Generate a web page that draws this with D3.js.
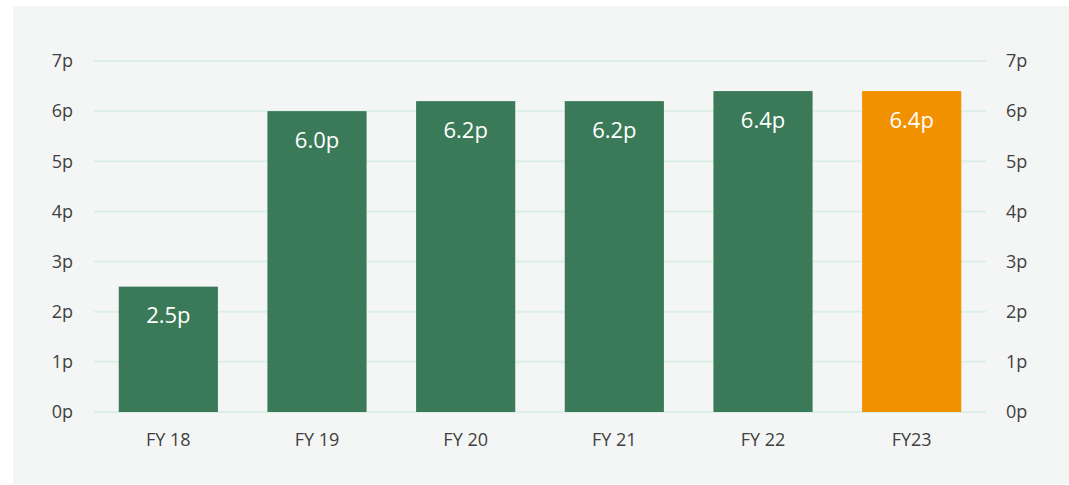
<!DOCTYPE html>
<html>
<head>
<meta charset="utf-8">
<script src="https://cdn.jsdelivr.net/npm/d3@7"></script>
<style>
  body { margin: 0; background: #ffffff; }
  svg { display: block; }
</style>
</head>
<body>
<div id="chart"></div>
<script>
const categories = ["FY 18", "FY 19", "FY 20", "FY 21", "FY 22", "FY23"];
const values = [2.5, 6.0, 6.2, 6.2, 6.4, 6.4];
const valueLabels = ["2.5p", "6.0p", "6.2p", "6.2p", "6.4p", "6.4p"];
const tickValues = [0, 1, 2, 3, 4, 5, 6, 7];

const width = 1069,
  height = 485;
const marginLeft = 94,
  marginRight = 83,
  marginTop = 61,
  marginBottom = 73;

const green = "#3a7a58";
const orange = "#f29100";
const font = "'Open Sans', sans-serif";

const svg = d3
  .select("#chart")
  .append("svg")
  .attr("width", width)
  .attr("height", height);

// panel background
svg
  .append("rect")
  .attr("x", 13)
  .attr("y", 6)
  .attr("width", width - 13)
  .attr("height", height - 7)
  .attr("fill", "#f4f6f6");

const xScale = d3
  .scaleBand()
  .domain(categories)
  .range([marginLeft, width - marginRight])
  .paddingInner(0.333)
  .paddingOuter(0.1665);

const yScale = d3
  .scaleLinear()
  .domain([0, 7])
  .range([height - marginBottom, marginTop]);

// gridlines
svg
  .append("g")
  .selectAll("line")
  .data(tickValues)
  .enter()
  .append("line")
  .attr("x1", marginLeft)
  .attr("x2", width - marginRight)
  .attr("y1", (d) => yScale(d))
  .attr("y2", (d) => yScale(d))
  .attr("stroke", "#dcefe6")
  .attr("stroke-width", 2);

// bars
svg
  .append("g")
  .selectAll("rect")
  .data(values)
  .enter()
  .append("rect")
  .attr("x", (d, i) => xScale(categories[i]))
  .attr("y", (d) => yScale(d))
  .attr("width", xScale.bandwidth())
  .attr("height", (d) => yScale(0) - yScale(d))
  .attr("fill", (d, i) => (i === categories.length - 1 ? orange : green));

// value labels
svg
  .append("g")
  .selectAll("text")
  .data(values)
  .enter()
  .append("text")
  .attr("x", (d, i) => xScale(categories[i]) + xScale.bandwidth() / 2)
  .attr("y", (d) => yScale(d) + 36.5)
  .attr("text-anchor", "middle")
  .attr("font-family", font)
  .attr("font-size", 22)
  .attr("fill", "#ffffff")
  .text((d, i) => valueLabels[i]);

// left axis
const yAxisLeft = d3
  .axisLeft(yScale)
  .tickValues(tickValues)
  .tickFormat((d) => d + "p")
  .tickSize(0)
  .tickPadding(21);

const gl = svg
  .append("g")
  .attr("transform", `translate(${marginLeft},0)`)
  .call(yAxisLeft);

// right axis
const yAxisRight = d3
  .axisRight(yScale)
  .tickValues(tickValues)
  .tickFormat((d) => d + "p")
  .tickSize(0)
  .tickPadding(20);

const gr = svg
  .append("g")
  .attr("transform", `translate(${width - marginRight},0)`)
  .call(yAxisRight);

// x axis
const xAxis = d3.axisBottom(xScale).tickSize(0).tickPadding(21);

const gx = svg
  .append("g")
  .attr("transform", `translate(0,${height - marginBottom})`)
  .call(xAxis);

[gl, gr, gx].forEach((g) => {
  g.select(".domain").remove();
  g.selectAll("text")
    .attr("font-family", font)
    .attr("font-size", 18)
    .attr("fill", "#404040");
});
</script>
</body>
</html>
